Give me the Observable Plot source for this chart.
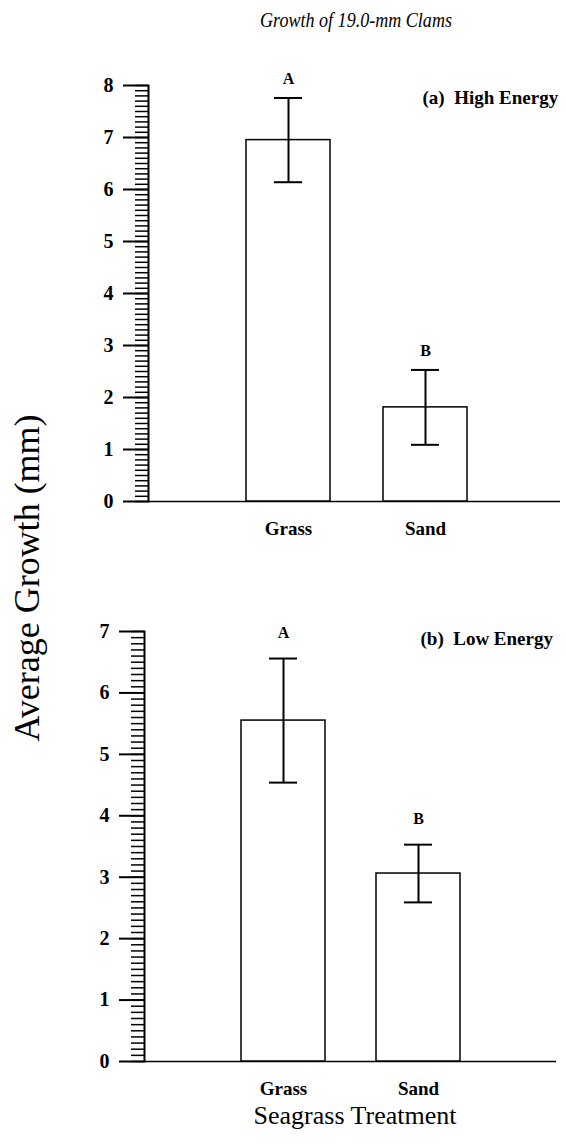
<!DOCTYPE html>
<html><head><meta charset="utf-8">
<script src="https://cdn.jsdelivr.net/npm/d3@7"></script>
<script src="https://cdn.jsdelivr.net/npm/@observablehq/plot@0.6"></script>
<style>
body{margin:0;background:#fff;}
#wrap{position:relative;width:566px;height:1145px;overflow:hidden;background:#fff;}
#wrap > svg.panel{position:absolute;left:0;}
#overlay{position:absolute;left:0;top:0;pointer-events:none;}
</style></head><body><div id="wrap"></div>
<script>
const categories = ["Grass", "Sand"];
const letters = ["A", "B"];
const highMean = [6.95, 1.81];
const highErr = [0.81, 0.72];
const lowMean = [5.55, 3.06];
const lowErr = [1.01, 0.47];
const highTicks = [0, 1, 2, 3, 4, 5, 6, 7, 8];
const lowTicks = [0, 1, 2, 3, 4, 5, 6, 7];
const panelLabels = ["(a)\u00a0 High Energy", "(b)\u00a0 Low Energy"];
const titleText = "Growth of 19.0-mm Clams";
const yTitle = "Average Growth (mm)";
const xTitle = "Seagrass Treatment";

const serif = "Liberation Serif, Times New Roman, Times, serif";

function panel(o) {
  const rows = categories.map((c, i) => ({cat: c, mean: o.mean[i], lo: o.mean[i] - o.err[i], hi: o.mean[i] + o.err[i], letter: letters[i]}));
  const max = o.ticks[o.ticks.length - 1];
  const minor = d3.range(0, max * 10 + 1).map(k => k / 10);
  const svg = Plot.plot({
    width: 566, height: o.height,
    marginTop: o.marginTop, marginBottom: o.marginBottom, marginLeft: o.marginLeft, marginRight: o.marginRight,
    style: {fontFamily: serif, color: "#000", background: "#fff", overflow: "visible"},
    x: {domain: categories, paddingInner: o.paddingInner, paddingOuter: o.paddingOuter, align: o.align, label: null},
    y: {domain: [0, max], label: null},
    marks: [
      Plot.axisY({ticks: minor, tickSize: 13, tickFormat: () => "", strokeWidth: 1.5, label: null}),
      Plot.axisY({ticks: o.ticks, tickSize: 25, tickPadding: 10, tickFormat: d => String(d), fontFamily: serif, fontSize: 20, fontWeight: "bold", strokeWidth: 2, label: null}),
      Plot.frame({anchor: "left", strokeWidth: 2}),
      Plot.axisX({tickSize: 0, tickPadding: 20, fontFamily: serif, fontSize: 19, fontWeight: "bold", label: null}),
      Plot.ruleY([0], {strokeWidth: 1.5}),
      Plot.barY(rows, {x: "cat", y: "mean", fill: "white", stroke: "black", strokeWidth: 1.5}),
      Plot.ruleX(rows, {x: "cat", y1: "lo", y2: "hi", strokeWidth: 2}),
      Plot.tickY(rows, {x: "cat", y: "lo", insetLeft: 28, insetRight: 28, strokeWidth: 2}),
      Plot.tickY(rows, {x: "cat", y: "hi", insetLeft: 28, insetRight: 28, strokeWidth: 2}),
      Plot.text(rows, {x: "cat", y: "hi", text: "letter", dy: o.letterDy, lineAnchor: "middle", fontFamily: serif, fontSize: 16, fontWeight: "bold"}),
      Plot.text([o.label], {frameAnchor: "top-left", dx: o.labelDx, dy: o.labelDy, textAnchor: "start", lineAnchor: "middle", fontFamily: serif, fontSize: 19, fontWeight: "bold"})
    ]
  });
  svg.classList.add("panel");
  svg.style.top = o.top + "px";
  return svg;
}

const wrap = document.getElementById("wrap");
wrap.appendChild(panel({
  mean: highMean, err: highErr, ticks: highTicks, label: panelLabels[0],
  top: 0, height: 560, marginTop: 85, marginBottom: 59, marginLeft: 148, marginRight: 6,
  paddingInner: 0.387, paddingOuter: 0.697, align: 0.513, letterDy: -19, labelDx: 274, labelDy: 12
}));
wrap.appendChild(panel({
  mean: lowMean, err: lowErr, ticks: lowTicks, label: panelLabels[1],
  top: 560, height: 585, marginTop: 71, marginBottom: 84, marginLeft: 144, marginRight: 10,
  paddingInner: 0.381, paddingOuter: 0.716, align: 0.5, letterDy: -26, labelDx: 276, labelDy: 7
}));

const ns = "http://www.w3.org/2000/svg";
const ov = document.createElementNS(ns, "svg");
ov.setAttribute("id", "overlay");
ov.setAttribute("width", 566);
ov.setAttribute("height", 1145);
ov.setAttribute("font-family", serif);
function addText(str, attrs) {
  const t = document.createElementNS(ns, "text");
  for (const k in attrs) t.setAttribute(k, attrs[k]);
  t.textContent = str;
  ov.appendChild(t);
}
addText(titleText, {transform: "translate(356,27) scale(0.86,1)", "text-anchor": "middle", "font-size": 21, "font-style": "italic"});
addText(yTitle, {transform: "translate(39,578) rotate(-90)", "text-anchor": "middle", "font-size": 36});
addText(xTitle, {x: 355, y: 1124, "text-anchor": "middle", "font-size": 26});
wrap.appendChild(ov);
</script>
</body></html>
